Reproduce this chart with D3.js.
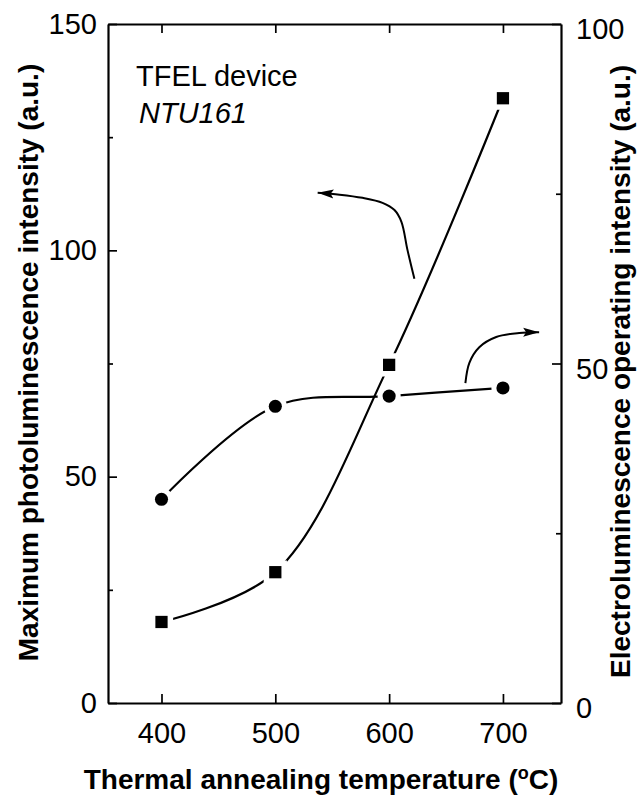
<!DOCTYPE html>
<html>
<head>
<meta charset="utf-8">
<script src="https://cdn.jsdelivr.net/npm/d3@7"></script>
<style>
  body { margin: 0; background: #fff; }
  svg text { font-family: "Liberation Sans", Arial, Helvetica, sans-serif; fill: #000; }
</style>
</head>
<body>
<svg id="chart_svg" width="643" height="797"></svg>
<script>
// data
const temps = [400, 500, 600, 700];
const plIntensity = [17.9, 28.9, 74.7, 133.6];   // squares, left axis
const elIntensity = [30.0, 43.7, 45.2, 46.4];    // circles, right axis
const xTickValues = [400, 500, 600, 700];
const leftMajor = [0, 50, 100, 150];
const leftMinor = [25, 75, 125];
const rightMajor = [0, 50, 100];
const rightMinor = [25, 75];

// curved annotation arrows (data units)
const plArrow = [[622.2, 93.7], [616.1, 100.1], [610.8, 106.3], [604.7, 108.9], [594.2, 110.5], [576.6, 111.6], [556.5, 112.3], [537.2, 112.7]];
const elArrow = [[667.0, 47.1], [670.5, 50.1], [679.2, 52.4], [694.1, 53.9], [714.3, 54.5], [731.8, 54.6]];

const margin = {top: 24, bottom: 94, left: 108, right: 82};
var svg, width, height, innerW, innerH;

svg = d3.select('#chart_svg')
width = +svg.attr('width')
height = +svg.attr('height')
innerW = width - margin.left - margin.right
innerH = height - margin.top - margin.bottom

const g = svg.append('g').attr('transform', `translate(${margin.left},${margin.top})`)

const xScale = d3.scaleLinear().domain([353, 751]).range([0, innerW])
const yLeft = d3.scaleLinear().domain([0, 150]).range([innerH, 0])
const yRight = d3.scaleLinear().domain([0, 100]).range([innerH, 0])

// arrowhead
svg.append('defs').append('marker')
  .attr('id', 'head')
  .attr('markerUnits', 'userSpaceOnUse')
  .attr('markerWidth', 18).attr('markerHeight', 12)
  .attr('refX', 16).attr('refY', 6)
  .attr('orient', 'auto')
  .append('path')
    .attr('d', 'M0,1.5 L16,6 L0,10.5 L3,6 Z')
    .attr('fill', '#000')

function styleAxis(sel) {
  sel.selectAll('path.domain').attr('stroke', '#000').attr('stroke-width', 2.2)
  sel.selectAll('.tick line').attr('stroke', '#000').attr('stroke-width', 1.7)
  sel.selectAll('text').attr('font-size', 29).style('font-family', '"Liberation Sans", Arial, sans-serif')
}

// Axes
const xBottom = g.append('g').attr('transform', `translate(0,${innerH})`)
  .call(d3.axisBottom(xScale).tickValues(xTickValues).tickSizeInner(-9).tickSizeOuter(0).tickPadding(19))
styleAxis(xBottom)
const xTop = g.append('g')
  .call(d3.axisTop(xScale).tickValues(xTickValues).tickSizeInner(-9).tickSizeOuter(0).tickFormat(''))
styleAxis(xTop)

const yL = g.append('g')
  .call(d3.axisLeft(yLeft).tickValues(leftMajor).tickSizeInner(-9).tickSizeOuter(0).tickPadding(11))
styleAxis(yL)
const yLmin = g.append('g')
  .call(d3.axisLeft(yLeft).tickValues(leftMinor).tickSizeInner(-5).tickSizeOuter(0).tickFormat(''))
styleAxis(yLmin)
yLmin.select('path.domain').remove()

const yR = g.append('g').attr('transform', `translate(${innerW},0)`)
  .call(d3.axisRight(yRight).tickValues(rightMajor).tickSizeInner(-9).tickSizeOuter(0).tickPadding(15))
styleAxis(yR)
yR.selectAll('.tick text').attr('dy', '0.5em')
const yRmin = g.append('g').attr('transform', `translate(${innerW},0)`)
  .call(d3.axisRight(yRight).tickValues(rightMinor).tickSizeInner(-5).tickSizeOuter(0).tickFormat(''))
styleAxis(yRmin)
yRmin.select('path.domain').remove()

// Curves
const plData = temps.map((t, i) => ({t: t, v: plIntensity[i]}))
const elData = temps.map((t, i) => ({t: t, v: elIntensity[i]}))

const plLine = d3.line().x(d => xScale(d.t)).y(d => yLeft(d.v)).curve(d3.curveCatmullRom)
const elLine = d3.line().x(d => xScale(d.t)).y(d => yRight(d.v)).curve(d3.curveCatmullRom)

g.append('path').datum(plData).attr('d', plLine)
  .attr('fill', 'none').attr('stroke', '#000').attr('stroke-width', 2.2)
g.append('path').datum(elData).attr('d', elLine)
  .attr('fill', 'none').attr('stroke', '#000').attr('stroke-width', 2.2)

// Markers: white halo first so lines stop short of the points
const square = d3.symbol().type(d3.symbolSquare).size(150)
const circle = d3.symbol().type(d3.symbolCircle).size(135)

g.selectAll('.halo_sq').data(plData).join('path')
  .attr('d', square).attr('transform', d => `translate(${xScale(d.t)},${yLeft(d.v)})`)
  .attr('fill', '#fff').attr('stroke', '#fff').attr('stroke-width', 11)
g.selectAll('.halo_ci').data(elData).join('path')
  .attr('d', circle).attr('transform', d => `translate(${xScale(d.t)},${yRight(d.v)})`)
  .attr('fill', '#fff').attr('stroke', '#fff').attr('stroke-width', 10)

g.selectAll('.pl_mark').data(plData).join('path')
  .attr('class', 'pl_mark')
  .attr('d', square).attr('transform', d => `translate(${xScale(d.t)},${yLeft(d.v)})`)
  .attr('fill', '#000')
g.selectAll('.el_mark').data(elData).join('path')
  .attr('class', 'el_mark')
  .attr('d', circle).attr('transform', d => `translate(${xScale(d.t)},${yRight(d.v)})`)
  .attr('fill', '#000')

// Arrows pointing to each axis
const arrowL = d3.line().x(d => xScale(d[0])).y(d => yLeft(d[1])).curve(d3.curveCatmullRom)
const arrowR = d3.line().x(d => xScale(d[0])).y(d => yRight(d[1])).curve(d3.curveCatmullRom)
g.append('path').attr('d', arrowL(plArrow))
  .attr('fill', 'none').attr('stroke', '#000').attr('stroke-width', 2).attr('marker-end', 'url(#head)')
g.append('path').attr('d', arrowR(elArrow))
  .attr('fill', 'none').attr('stroke', '#000').attr('stroke-width', 2).attr('marker-end', 'url(#head)')

// Labels
svg.append('text').attr('x', 136).attr('y', 86).attr('font-size', 29).text('TFEL device')
svg.append('text').attr('x', 139).attr('y', 123).attr('font-size', 29).attr('font-style', 'italic').text('NTU161')

const xTitle = svg.append('text')
  .attr('x', 321).attr('y', 789)
  .attr('text-anchor', 'middle')
  .attr('font-size', 28).attr('font-weight', 'bold')
xTitle.append('tspan').text('Thermal annealing temperature (')
xTitle.append('tspan').attr('font-size', 18).attr('dy', -10).text('o')
xTitle.append('tspan').attr('dy', 10).text('C)')

svg.append('text')
  .attr('transform', `translate(38,${margin.top + innerH / 2 - 1}) rotate(-90)`)
  .attr('text-anchor', 'middle')
  .attr('font-size', 28).attr('font-weight', 'bold')
  .text('Maximum photoluminescence intensity (a.u.)')

svg.append('text')
  .attr('transform', `translate(630,${margin.top + innerH / 2 + 8}) rotate(-90)`)
  .attr('text-anchor', 'middle')
  .attr('font-size', 28).attr('font-weight', 'bold')
  .text('Electroluminescence operating intensity (a.u.)')
</script>
</body>
</html>
